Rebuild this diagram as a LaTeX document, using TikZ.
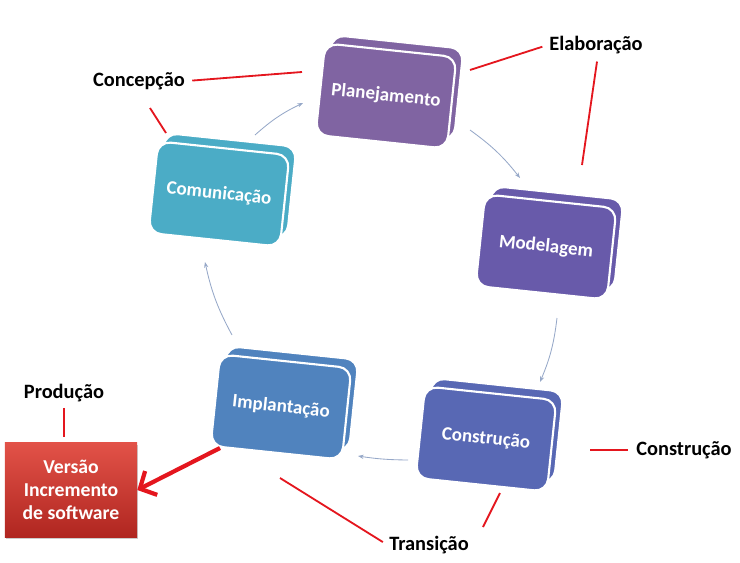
\documentclass[tikz,border=0pt]{standalone}
\usepackage{fontspec}
\setmainfont{Carlito}
\usetikzlibrary{arrows.meta,shadows,calc}

\definecolor{planc}{RGB}{128,100,162}
\definecolor{modelc}{RGB}{104,90,170}
\definecolor{constc}{RGB}{88,104,180}
\definecolor{implc}{RGB}{80,131,190}
\definecolor{comunc}{RGB}{75,172,198}
\definecolor{redline}{RGB}{228,22,30}
\definecolor{cyclec}{RGB}{150,168,200}
\definecolor{vtop}{RGB}{226,82,72}
\definecolor{vbot}{RGB}{176,38,32}

\tikzset{
  stagebox/.style={rectangle,rounded corners=9pt,minimum width=3.3cm,minimum height=2.3cm,
    fill=#1,draw=white,line width=1.5pt,rotate=-6,text=white,
    font=\bfseries\fontsize{13.5}{15}\selectfont,
    copy shadow={shadow xshift=5pt,shadow yshift=6pt,fill=#1,draw=white,line width=1.5pt}},
  phase/.style={font=\bfseries\fontsize{14.5}{16}\selectfont,text=black,inner sep=1pt},
  redlink/.style={draw=redline,line width=1.3pt},
  cycle/.style={draw=cyclec,line width=0.6pt,-{Stealth[length=4pt]}},
}

\begin{document}
\begin{tikzpicture}[x=0.025cm,y=0.025cm]
    \useasboundingbox (0,0) rectangle (740,562);
    %
    \node[stagebox=planc] (plan) at (386,466) {Planejamento};
    \node[stagebox=modelc] (model) at (546,315) {Modelagem};
    \node[stagebox=constc] (constr) at (486,123) {Construção};
    \node[stagebox=implc] (impl) at (281,155) {Implantação};
    \node[stagebox=comunc] (comun) at (219,368) {Comunicação};

    \node[rectangle,minimum width=3.3cm,minimum height=2.35cm,top color=vtop,bottom color=vbot,
      text=white,align=center,font=\bfseries\fontsize{14}{16.5}\selectfont,
      drop shadow={shadow xshift=1pt,shadow yshift=-1.5pt,opacity=0.4}] (versao) at (71,72)
      {Versão\\Incremento\\de software};
    %
    \node[phase] (conc) at (139,481) {Concepção};
    \node[phase] (elab) at (596,517) {Elaboração};
    \node[phase] (constl) at (684,112) {Construção};
    \node[phase] (trans) at (429,17) {Transição};
    \node[phase] (prod) at (64,169) {Produção};
    %
    \coordinate (c1) at (302,490);
    \coordinate (c2) at (150,454);
    \coordinate (c3) at (166,429);
    \coordinate (e1) at (470,492);
    \coordinate (e2) at (582,397);
    \coordinate (k1) at (590,112);
    \coordinate (t1) at (280,84);
    \coordinate (t2) at (483,35);
    \coordinate (t3) at (500,69);
    \coordinate (r1) at (220,114);
    %
    \draw[redlink,shorten <=4pt] (conc.east) -- (c1);
    \draw[redlink] (c2) -- (c3);
    \draw[redlink,shorten <=4pt] (elab.west) -- (e1);
    \draw[redlink] ($(elab.south)+(1,-6)$) -- (e2);
    \draw[redlink,shorten <=5pt] (constl.west) -- (k1);
    \draw[redlink,shorten <=4pt] (trans.west) -- (t1);
    \draw[redlink] (t2) -- (t3);
    \draw[redlink,shorten <=3pt,shorten >=4pt] (prod.south) -- (versao.north -| prod.south);
    \draw[draw=redline,line width=3pt,-{Straight Barb[length=9pt,width=19pt]}] (r1) -- (versao.east);
    %
    \coordinate (pm1) at (470,432);
    \coordinate (pm2) at (520,384);
    \coordinate (mc1) at (557,244);
    \coordinate (mc2) at (540,180);
    \coordinate (ci1) at (408,102);
    \coordinate (ci2) at (358,106);
    \coordinate (ic1) at (232,227);
    \coordinate (ic2) at (205,300);
    \coordinate (cp1) at (255,427);
    \coordinate (cp2) at (303,459);
    %
    \draw[cycle] (pm1) to[bend left=8] (pm2);
    \draw[cycle] (mc1) to[bend left=8] (mc2);
    \draw[cycle] (ci1) to[bend left=4] (ci2);
    \draw[cycle] (ic1) to[bend right=-8] (ic2);
    \draw[cycle] (cp1) to[bend left=8] (cp2);
    %
\end{tikzpicture}
\end{document}
